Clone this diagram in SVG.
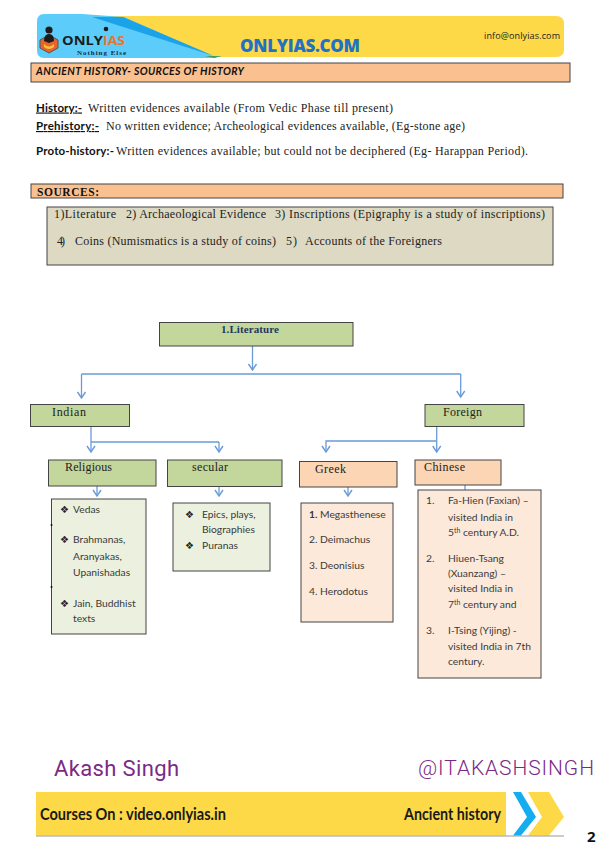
<svg xmlns="http://www.w3.org/2000/svg" width="600" height="849" viewBox="0 0 600 849">
<style>
.s{font-family:"Liberation Serif",serif;font-size:12px;fill:#222}
.h{font-family:Lato,"Liberation Sans",sans-serif;font-size:11.5px;font-weight:bold;fill:#111}
.u{text-decoration:underline}
.l{font-family:Lato,"Liberation Sans",sans-serif;font-size:10.3px;fill:#3a3a3a}
.b{font-family:"DejaVu Sans",sans-serif;font-size:10px;fill:#222}
.box{stroke:#444;stroke-width:1}
.g{fill:#c3d69b}.p{fill:#fcd5b5}.lg{fill:#ebf1de}.lp{fill:#fde9d9}.o{fill:#fac090}
.c{fill:none;stroke:#6a9bd8;stroke-width:1.3}
.y{fill:#fdd947}
.hand{font-family:Lato,sans-serif;font-weight:bold;fill:#1a1a1a}
.pur{font-family:Roboto,sans-serif;fill:#7a2a86}
</style>
<defs>
<marker id="arrh" markerUnits="userSpaceOnUse" markerWidth="12" markerHeight="12" refX="9" refY="6" orient="auto" viewBox="0 0 12 12">
<path d="M3 2 L9 6 L3 10" fill="none" stroke="#6a9bd8" stroke-width="1.4"/>
</marker>
</defs>
<rect width="600" height="849" fill="#fff"/>

<g id="banner">
<path class="y" d="M100 16 H556 Q564 16 564 24 V50 Q564 57 556 57 H200 Z"/>
<path fill="#5ccdfb" d="M44 14 H82 L124 17 L217 58 H44 Q37 58 37 50 V22 Q37 14 44 14 Z"/>
<path fill="#1ba3ea" d="M92 17 H123 L214 56 Z"/>
<path fill="#3f9f6a" d="M205 56 L222 56 L214 58 Z"/>
<path fill="#e8642c" stroke="#555" stroke-width="1" d="M49 35 L58 40 V48 L49 53 L40 48 V40 Z"/>
<path fill="#f5c33b" d="M44 44 Q49 49 54 44 L54 47 Q49 51 44 47 Z"/>
<circle cx="49" cy="30" r="3.6" fill="#1c1c1c"/>
<path fill="#1c1c1c" d="M44 41 Q44 34 49 34 Q54 34 54 41 L49 43 Z"/>
<circle cx="106" cy="29" r="2.3" fill="#1c1c1c"/>
<text x="62" y="44.5" font-family="'Open Sans',sans-serif" font-size="12" font-weight="bold" fill="#1c1c1c" textLength="41" lengthAdjust="spacingAndGlyphs">ONLY</text>
<text x="103" y="44.5" font-family="'Open Sans',sans-serif" font-size="12" font-weight="bold" fill="#e8762c" textLength="22" lengthAdjust="spacingAndGlyphs">IAS</text>
<text x="77" y="54.5" font-family="'Liberation Serif',serif" font-size="7" font-weight="bold" fill="#1c2a44" textLength="49">Nothing Else</text>
<text x="240" y="52" font-family="'Open Sans',sans-serif" font-size="17" font-weight="800" fill="#1f72c4" textLength="120">ONLYIAS.COM</text>
<text x="484" y="39" font-family="'Open Sans',sans-serif" font-size="9" fill="#222" textLength="76">info@onlyias.com</text>
</g>

<g id="title">
<rect class="box o" x="31" y="63" width="539" height="19"/>
<text x="36" y="75" font-family="Lato,sans-serif" font-size="10.5" font-weight="bold" font-style="italic" fill="#111" textLength="208">ANCIENT HISTORY- SOURCES OF HISTORY</text>
</g>

<g id="definitions">
<text class="h u" x="36" y="111.5" textLength="46">History:-</text>
<text class="s" x="88" y="111.5" textLength="305">Written evidences available (From Vedic Phase till present)</text>
<text class="h u" x="36" y="130" textLength="63">Prehistory:-</text>
<text class="s" x="106" y="130" textLength="359">No written evidence; Archeological evidences available, (Eg-stone age)</text>
<text class="h" x="36" y="155" textLength="78">Proto-history:-</text>
<text class="s" x="116" y="155" textLength="412">Written evidences available; but could not be deciphered (Eg- Harappan Period).</text>
</g>

<g id="sources-head">
<rect class="box o" x="31" y="184" width="532" height="14"/>
<text x="37" y="195.5" font-family="'Liberation Serif',serif" font-size="11.5" font-weight="bold" fill="#111" textLength="62">SOURCES:</text>
</g>

<g id="sources-list">
<rect class="box" fill="#ddd9c3" x="47" y="207" width="506" height="58"/>
<text class="s" x="54" y="218" textLength="62">1)Literature</text>
<text class="s" x="126" y="218" textLength="140">2) Archaeological Evidence</text>
<text class="s" x="275" y="218" textLength="270">3) Inscriptions (Epigraphy is a study of inscriptions)</text>
<text class="s" x="57" y="245" textLength="8">4)</text>
<text class="s" x="75" y="245" textLength="201">Coins (Numismatics is a study of coins)</text>
<text class="s" x="286" y="245" textLength="11">5)</text>
<text class="s" x="305" y="245" textLength="137">Accounts of the Foreigners</text>
</g>

<g id="connectors" class="c">
<path d="M252.5 346 V370" marker-end="url(#arrh)"/>
<path d="M81.5 374 H460.7"/>
<path d="M81.5 374 V398" marker-end="url(#arrh)"/>
<path d="M460.7 374 V397" marker-end="url(#arrh)"/>
<path d="M91 426 V452" marker-end="url(#arrh)"/>
<path d="M91 442 H219"/>
<path d="M219 442 V452" marker-end="url(#arrh)"/>
<path d="M436.7 426 V452" marker-end="url(#arrh)"/>
<path d="M436.7 441 H326 V452" marker-end="url(#arrh)"/>
<path d="M97 486 V496" marker-end="url(#arrh)"/>
<path d="M219 486 V496" marker-end="url(#arrh)"/>
<path d="M348 487 V496" marker-end="url(#arrh)"/>
<path d="M465 485 V490"/>
</g>

<g id="node-literature">
<rect class="box g" x="159.5" y="322.5" width="193.5" height="23.5"/>
<text x="221" y="332.5" font-family="'Liberation Serif',serif" font-size="11" font-weight="bold" fill="#1f3864" textLength="58">1.Literature</text>
</g>
<g id="node-indian">
<rect class="box g" x="30.5" y="404.5" width="99" height="22"/>
<text class="s" x="52" y="416" textLength="34">Indian</text>
</g>
<g id="node-foreign">
<rect class="box g" x="425" y="404.5" width="99" height="22"/>
<text class="s" x="443" y="416" textLength="39">Foreign</text>
</g>
<g id="node-religious">
<rect class="box g" x="48.5" y="460" width="107.5" height="26"/>
<text class="s" x="65" y="471" textLength="47">Religious</text>
</g>
<g id="node-secular">
<rect class="box g" x="167.5" y="460" width="114.5" height="26.5"/>
<text class="s" x="192" y="471" textLength="36">secular</text>
</g>
<g id="node-greek">
<rect class="box p" x="299.5" y="461.5" width="97.5" height="25.5"/>
<text class="s" x="315" y="473" textLength="31">Greek</text>
</g>
<g id="node-chinese">
<rect class="box p" x="415" y="460" width="86" height="25"/>
<text class="s" x="424" y="471" textLength="41">Chinese</text>
</g>

<g id="list-religious">
<rect class="box lg" x="51.5" y="499" width="94.5" height="135"/>
<circle cx="51.5" cy="525" r="1" fill="#111"/>
<circle cx="51.5" cy="587" r="1" fill="#111"/>
<text class="b" x="60" y="513">❖</text>
<text class="l" x="73" y="513">Vedas</text>
<text class="b" x="60" y="543">❖</text>
<text class="l" x="73" y="543">Brahmanas,</text>
<text class="l" x="73" y="560">Aranyakas,</text>
<text class="l" x="73" y="576">Upanishadas</text>
<text class="b" x="60" y="607">❖</text>
<text class="l" x="73" y="607">Jain, Buddhist</text>
<text class="l" x="73" y="622">texts</text>
</g>
<g id="list-secular">
<rect class="box lg" x="173" y="503" width="97" height="68"/>
<text class="b" x="185" y="518">❖</text>
<text class="l" x="202" y="518">Epics, plays,</text>
<text class="l" x="202" y="533">Biographies</text>
<text class="b" x="185" y="549">❖</text>
<text class="l" x="202" y="549">Puranas</text>
</g>
<g id="list-greek">
<rect class="box lp" x="301" y="503" width="92" height="119"/>
<text class="l" x="309" y="518" font-weight="bold">1.</text><text class="l" x="320" y="518">Megasthenese</text>
<text class="l" x="309" y="543">2.</text><text class="l" x="320" y="543">Deimachus</text>
<text class="l" x="309" y="569">3.</text><text class="l" x="320" y="569">Deonisius</text>
<text class="l" x="309" y="595">4.</text><text class="l" x="320" y="595">Herodotus</text>
</g>
<g id="list-chinese">
<rect class="box lp" x="418" y="490" width="123" height="188"/>
<text class="l" x="426" y="504">1.</text>
<text class="l" x="448" y="504">Fa-Hien (Faxian) –</text>
<text class="l" x="448" y="521">visited India in</text>
<text class="l" x="448" y="536">5<tspan font-size="7" dy="-3.5">th</tspan><tspan dy="3.5"> century A.D.</tspan></text>
<text class="l" x="426" y="562">2.</text>
<text class="l" x="448" y="562">Hiuen-Tsang</text>
<text class="l" x="448" y="577">(Xuanzang) –</text>
<text class="l" x="448" y="592">visited India in</text>
<text class="l" x="448" y="608">7<tspan font-size="7" dy="-3.5">th</tspan><tspan dy="3.5"> century and</tspan></text>
<text class="l" x="426" y="634">3.</text>
<text class="l" x="448" y="634">I-Tsing (Yijing) -</text>
<text class="l" x="448" y="650">visited India in 7th</text>
<text class="l" x="448" y="665">century.</text>
</g>

<g id="footer">
<text class="pur" x="54" y="776" font-size="22" textLength="125">Akash Singh</text>
<text class="pur" x="418" y="775" font-size="21" font-weight="300" textLength="176">@ITAKASHSINGH</text>
<rect class="y" x="36" y="792" width="470" height="43.5"/>
<path class="y" d="M528 792 H549 L564 817 L549 835.5 H528 L542 817 Z"/>
<path fill="#14aef0" d="M513 792 H521 L536 817 L521 835.5 H513 L527 817 Z"/>
<path d="M36 836 H564" stroke="#999" stroke-width="1"/>
<text class="hand" x="40" y="820" font-size="17" textLength="186" lengthAdjust="spacingAndGlyphs">Courses On : video.onlyias.in</text>
<text class="hand" x="404" y="820" font-size="17" textLength="97" lengthAdjust="spacingAndGlyphs">Ancient history</text>
<text x="587" y="842" font-family="'Open Sans',sans-serif" font-size="15" font-weight="bold" fill="#111">2</text>
</g>
</svg>
